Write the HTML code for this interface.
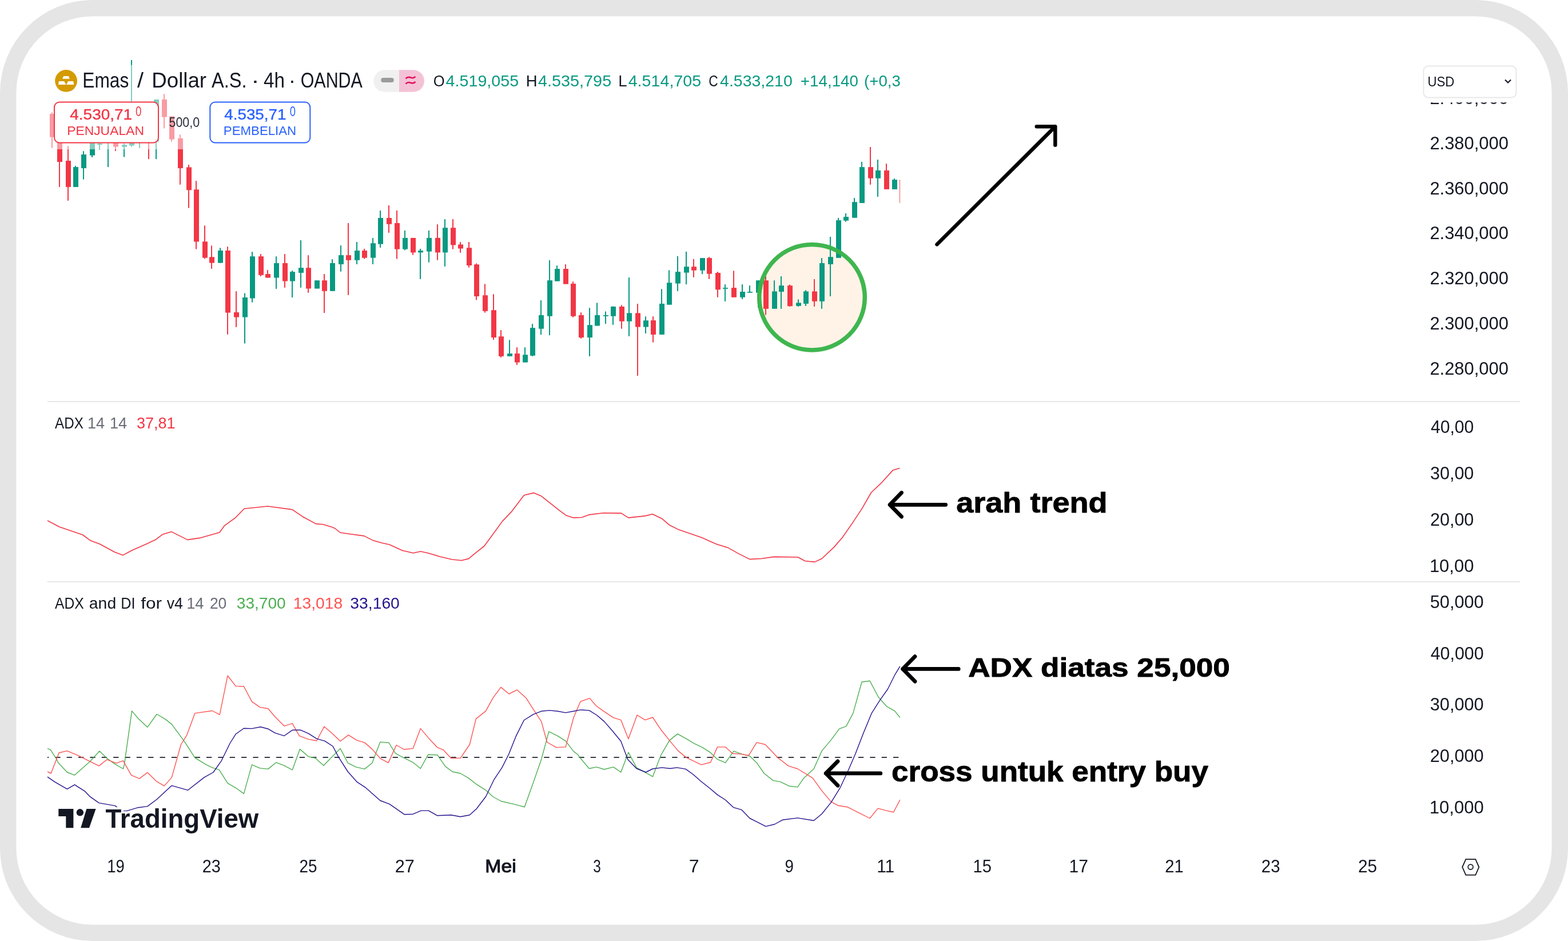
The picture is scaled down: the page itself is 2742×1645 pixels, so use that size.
<!DOCTYPE html><html><head><meta charset="utf-8"><title>XAUUSD ADX</title>
<style>html,body{margin:0;padding:0;background:#fff;}body{width:2742px;height:1645px;overflow:hidden;}svg{display:block;}text{font-family:"Liberation Sans", Arial, sans-serif;}</style></head><body>
<svg width="2742" height="1645" viewBox="0 0 2742 1645">
<defs><clipPath id="cp"><rect x="83" y="100" width="1491" height="602"/></clipPath><clipPath id="ca"><rect x="83" y="703" width="1491" height="313"/></clipPath><clipPath id="cd"><rect x="83" y="1018" width="1491" height="452"/></clipPath></defs>
<rect x="0" y="0" width="2742" height="1645" rx="162" ry="162" fill="#e5e5e5"/>
<rect x="28.4" y="28.4" width="2685.2" height="1588.2" rx="133.6" ry="133.6" fill="#ffffff"/>
<rect x="83" y="701" width="2575" height="2" fill="#e6e6e6"/>
<rect x="83" y="1016" width="2575" height="2" fill="#e6e6e6"/>
<circle cx="1420" cy="519.7" r="92" fill="#fff3e7"/>
<g clip-path="url(#cp)">
<rect x="90" y="196.3" width="2" height="62.5" fill="#f23645"/>
<rect x="87" y="199.1" width="9" height="40.5" fill="#f23645"/>
<rect x="103" y="236" width="2" height="90.9" fill="#f23645"/>
<rect x="100" y="240" width="9" height="43" fill="#f23645"/>
<rect x="118" y="255.2" width="2" height="95.6" fill="#f23645"/>
<rect x="115" y="281" width="9" height="45.9" fill="#f23645"/>
<rect x="131" y="289.8" width="2" height="37.1" fill="#089981"/>
<rect x="128" y="292" width="9" height="34.9" fill="#089981"/>
<rect x="145" y="264.2" width="2" height="49.5" fill="#089981"/>
<rect x="142" y="270" width="9" height="24" fill="#089981"/>
<rect x="160" y="245" width="2" height="30" fill="#089981"/>
<rect x="157" y="247" width="9" height="24.6" fill="#089981"/>
<rect x="173" y="250" width="2" height="11.6" fill="#089981"/>
<rect x="170" y="251" width="9" height="1.9" fill="#089981"/>
<rect x="188" y="240" width="2" height="52" fill="#089981"/>
<rect x="185" y="242" width="9" height="7" fill="#089981"/>
<rect x="201" y="249" width="2" height="14.9" fill="#f23645"/>
<rect x="198" y="249" width="9" height="7.5" fill="#f23645"/>
<rect x="216" y="251" width="2" height="23.4" fill="#089981"/>
<rect x="213" y="253.3" width="9" height="3.4" fill="#089981"/>
<rect x="229" y="105" width="2" height="151.5" fill="#089981"/>
<rect x="226" y="249" width="9" height="5.5" fill="#089981"/>
<rect x="243" y="244" width="2" height="14.8" fill="#089981"/>
<rect x="240" y="245" width="9" height="4" fill="#089981"/>
<rect x="259" y="238" width="2" height="40.2" fill="#f23645"/>
<rect x="256" y="240" width="9" height="9" fill="#f23645"/>
<rect x="272" y="173.9" width="2" height="104.3" fill="#089981"/>
<rect x="269" y="173.9" width="9" height="73.8" fill="#089981"/>
<rect x="286" y="164.3" width="2" height="60.1" fill="#f23645"/>
<rect x="283" y="173.9" width="9" height="30.7" fill="#f23645"/>
<rect x="299" y="203.3" width="2" height="44.2" fill="#f23645"/>
<rect x="296" y="203.3" width="9" height="40.3" fill="#f23645"/>
<rect x="314" y="235.3" width="2" height="87.4" fill="#f23645"/>
<rect x="311" y="241.8" width="9" height="52.2" fill="#f23645"/>
<rect x="329" y="288" width="2" height="75.6" fill="#f23645"/>
<rect x="326" y="292.4" width="9" height="39.9" fill="#f23645"/>
<rect x="342" y="316.2" width="2" height="119.3" fill="#f23645"/>
<rect x="339" y="331.3" width="9" height="91.2" fill="#f23645"/>
<rect x="357" y="394.3" width="2" height="58.2" fill="#f23645"/>
<rect x="354" y="422.3" width="9" height="28.3" fill="#f23645"/>
<rect x="369" y="429.4" width="2" height="40.4" fill="#f23645"/>
<rect x="366" y="449.3" width="9" height="10.3" fill="#f23645"/>
<rect x="384" y="433.3" width="2" height="26.3" fill="#089981"/>
<rect x="381" y="438" width="9" height="21.6" fill="#089981"/>
<rect x="397" y="431.1" width="2" height="153.6" fill="#f23645"/>
<rect x="394" y="438" width="9" height="108.6" fill="#f23645"/>
<rect x="412" y="509.2" width="2" height="62.6" fill="#f23645"/>
<rect x="409" y="545.9" width="9" height="8.6" fill="#f23645"/>
<rect x="427" y="512.5" width="2" height="88" fill="#089981"/>
<rect x="424" y="520" width="9" height="34.5" fill="#089981"/>
<rect x="440" y="440.2" width="2" height="88.4" fill="#089981"/>
<rect x="437" y="448.2" width="9" height="73.3" fill="#089981"/>
<rect x="455" y="444.1" width="2" height="38.9" fill="#f23645"/>
<rect x="452" y="448.2" width="9" height="32.6" fill="#f23645"/>
<rect x="467" y="472.1" width="2" height="13.4" fill="#f23645"/>
<rect x="464" y="479" width="9" height="6.5" fill="#f23645"/>
<rect x="482" y="448.2" width="2" height="56.7" fill="#089981"/>
<rect x="479" y="460" width="9" height="25.5" fill="#089981"/>
<rect x="497" y="444.1" width="2" height="58.7" fill="#f23645"/>
<rect x="494" y="460" width="9" height="31.5" fill="#f23645"/>
<rect x="510" y="473" width="2" height="47" fill="#089981"/>
<rect x="507" y="475.2" width="9" height="16.3" fill="#089981"/>
<rect x="525" y="420.1" width="2" height="82.7" fill="#089981"/>
<rect x="522" y="468.2" width="9" height="8.7" fill="#089981"/>
<rect x="538" y="446.2" width="2" height="65.6" fill="#f23645"/>
<rect x="535" y="468.2" width="9" height="36.3" fill="#f23645"/>
<rect x="553" y="490.2" width="2" height="14.3" fill="#089981"/>
<rect x="550" y="490.2" width="9" height="14.3" fill="#089981"/>
<rect x="566" y="479" width="2" height="68" fill="#f23645"/>
<rect x="563" y="490.2" width="9" height="18.6" fill="#f23645"/>
<rect x="580" y="453.2" width="2" height="55.6" fill="#089981"/>
<rect x="577" y="460" width="9" height="48.8" fill="#089981"/>
<rect x="595" y="429.1" width="2" height="45.7" fill="#089981"/>
<rect x="592" y="446.1" width="9" height="15.8" fill="#089981"/>
<rect x="608" y="390" width="2" height="125.8" fill="#f23645"/>
<rect x="605" y="446.1" width="9" height="8.7" fill="#f23645"/>
<rect x="623" y="423" width="2" height="38.9" fill="#089981"/>
<rect x="620" y="438.1" width="9" height="16.7" fill="#089981"/>
<rect x="636" y="434.9" width="2" height="17.7" fill="#f23645"/>
<rect x="633" y="438.1" width="9" height="12.6" fill="#f23645"/>
<rect x="651" y="415.9" width="2" height="46" fill="#089981"/>
<rect x="648" y="425.2" width="9" height="25.5" fill="#089981"/>
<rect x="664" y="368" width="2" height="64.8" fill="#089981"/>
<rect x="661" y="381" width="9" height="45.7" fill="#089981"/>
<rect x="679" y="359" width="2" height="47.9" fill="#f23645"/>
<rect x="676" y="381" width="9" height="10.8" fill="#f23645"/>
<rect x="693" y="368" width="2" height="84.6" fill="#f23645"/>
<rect x="690" y="390" width="9" height="45.6" fill="#f23645"/>
<rect x="707" y="403" width="2" height="34.5" fill="#089981"/>
<rect x="704" y="415.9" width="9" height="19.7" fill="#089981"/>
<rect x="721" y="415.9" width="2" height="29.8" fill="#f23645"/>
<rect x="718" y="415.9" width="9" height="25.5" fill="#f23645"/>
<rect x="734" y="434.9" width="2" height="52.9" fill="#089981"/>
<rect x="731" y="438.1" width="9" height="3.3" fill="#089981"/>
<rect x="749" y="403" width="2" height="55.6" fill="#089981"/>
<rect x="746" y="415.9" width="9" height="23.8" fill="#089981"/>
<rect x="764" y="392.2" width="2" height="62.6" fill="#f23645"/>
<rect x="761" y="415.9" width="9" height="25.5" fill="#f23645"/>
<rect x="777" y="383.1" width="2" height="82.7" fill="#089981"/>
<rect x="774" y="398.2" width="9" height="43.2" fill="#089981"/>
<rect x="791" y="383.1" width="2" height="52.5" fill="#f23645"/>
<rect x="788" y="398.2" width="9" height="30.2" fill="#f23645"/>
<rect x="804" y="423" width="2" height="18.8" fill="#f23645"/>
<rect x="801" y="427.4" width="9" height="7.1" fill="#f23645"/>
<rect x="819" y="423" width="2" height="44.7" fill="#f23645"/>
<rect x="816" y="433.2" width="9" height="30.8" fill="#f23645"/>
<rect x="832" y="460.4" width="2" height="64" fill="#f23645"/>
<rect x="829" y="462.3" width="9" height="55.7" fill="#f23645"/>
<rect x="847" y="496.4" width="2" height="50.2" fill="#f23645"/>
<rect x="844" y="516.2" width="9" height="27.6" fill="#f23645"/>
<rect x="862" y="514.3" width="2" height="79.7" fill="#f23645"/>
<rect x="859" y="542.2" width="9" height="47.8" fill="#f23645"/>
<rect x="875" y="577" width="2" height="47.9" fill="#f23645"/>
<rect x="872" y="588.2" width="9" height="34.6" fill="#f23645"/>
<rect x="890" y="594.3" width="2" height="28.5" fill="#089981"/>
<rect x="887" y="618" width="9" height="4.8" fill="#089981"/>
<rect x="903" y="607.2" width="2" height="30.7" fill="#f23645"/>
<rect x="900" y="618" width="9" height="15.5" fill="#f23645"/>
<rect x="917" y="607.2" width="2" height="26.3" fill="#089981"/>
<rect x="914" y="620.2" width="9" height="13.3" fill="#089981"/>
<rect x="930" y="566.2" width="2" height="56.6" fill="#089981"/>
<rect x="927" y="573.2" width="9" height="48.5" fill="#089981"/>
<rect x="945" y="525" width="2" height="60" fill="#089981"/>
<rect x="942" y="550.9" width="9" height="23.8" fill="#089981"/>
<rect x="960" y="455" width="2" height="131.1" fill="#089981"/>
<rect x="957" y="490.1" width="9" height="62.6" fill="#089981"/>
<rect x="973" y="464.2" width="2" height="27.4" fill="#089981"/>
<rect x="970" y="470" width="9" height="21.6" fill="#089981"/>
<rect x="988" y="462.1" width="2" height="34.5" fill="#f23645"/>
<rect x="985" y="470" width="9" height="26.6" fill="#f23645"/>
<rect x="1001" y="492.3" width="2" height="62.5" fill="#f23645"/>
<rect x="998" y="495.9" width="9" height="56.8" fill="#f23645"/>
<rect x="1015" y="546.2" width="2" height="45.7" fill="#f23645"/>
<rect x="1012" y="550.9" width="9" height="39.1" fill="#f23645"/>
<rect x="1030" y="538.2" width="2" height="84.6" fill="#089981"/>
<rect x="1027" y="568.2" width="9" height="21.8" fill="#089981"/>
<rect x="1043" y="529.4" width="2" height="40.1" fill="#089981"/>
<rect x="1040" y="550.9" width="9" height="18.6" fill="#089981"/>
<rect x="1058" y="544.5" width="2" height="21.5" fill="#089981"/>
<rect x="1055" y="550.9" width="9" height="1.8" fill="#089981"/>
<rect x="1071" y="535.4" width="2" height="32.4" fill="#089981"/>
<rect x="1068" y="536" width="9" height="16.7" fill="#089981"/>
<rect x="1086" y="533.2" width="2" height="41.5" fill="#f23645"/>
<rect x="1083" y="536" width="9" height="25.7" fill="#f23645"/>
<rect x="1099" y="485.1" width="2" height="102.7" fill="#089981"/>
<rect x="1096" y="547.3" width="9" height="14.4" fill="#089981"/>
<rect x="1114" y="531.1" width="2" height="125.7" fill="#f23645"/>
<rect x="1111" y="547.3" width="9" height="24.3" fill="#f23645"/>
<rect x="1128" y="553.3" width="2" height="29.6" fill="#089981"/>
<rect x="1125" y="560.2" width="9" height="11.4" fill="#089981"/>
<rect x="1141" y="553.2" width="2" height="45.2" fill="#f23645"/>
<rect x="1138" y="560" width="9" height="24.9" fill="#f23645"/>
<rect x="1156" y="505.3" width="2" height="79.6" fill="#089981"/>
<rect x="1153" y="530.9" width="9" height="54" fill="#089981"/>
<rect x="1169" y="472.3" width="2" height="60.4" fill="#089981"/>
<rect x="1166" y="494.3" width="9" height="38.4" fill="#089981"/>
<rect x="1184" y="447.9" width="2" height="61" fill="#089981"/>
<rect x="1181" y="475.1" width="9" height="20.5" fill="#089981"/>
<rect x="1199" y="439.9" width="2" height="57.2" fill="#089981"/>
<rect x="1196" y="466.2" width="9" height="10.4" fill="#089981"/>
<rect x="1212" y="452.8" width="2" height="32" fill="#f23645"/>
<rect x="1209" y="466.2" width="9" height="6.5" fill="#f23645"/>
<rect x="1227" y="451.1" width="2" height="28.1" fill="#089981"/>
<rect x="1224" y="451.1" width="9" height="21.6" fill="#089981"/>
<rect x="1239" y="449.2" width="2" height="38.6" fill="#f23645"/>
<rect x="1236" y="451.1" width="9" height="27.6" fill="#f23645"/>
<rect x="1254" y="475.1" width="2" height="44.6" fill="#f23645"/>
<rect x="1251" y="477" width="9" height="29.3" fill="#f23645"/>
<rect x="1267" y="497.1" width="2" height="29.7" fill="#089981"/>
<rect x="1264" y="503.1" width="9" height="1.7" fill="#089981"/>
<rect x="1282" y="473.3" width="2" height="46.4" fill="#f23645"/>
<rect x="1279" y="503.1" width="9" height="16.6" fill="#f23645"/>
<rect x="1297" y="497.1" width="2" height="25.9" fill="#089981"/>
<rect x="1294" y="510" width="9" height="9.7" fill="#089981"/>
<rect x="1310" y="499.2" width="2" height="12.5" fill="#089981"/>
<rect x="1307" y="510" width="9" height="1.7" fill="#089981"/>
<rect x="1325" y="490.2" width="2" height="47.4" fill="#089981"/>
<rect x="1322" y="490.2" width="9" height="21.5" fill="#089981"/>
<rect x="1338" y="483" width="2" height="67.6" fill="#f23645"/>
<rect x="1335" y="490.2" width="9" height="49.6" fill="#f23645"/>
<rect x="1353" y="490.2" width="2" height="49.6" fill="#089981"/>
<rect x="1350" y="509.4" width="9" height="30.4" fill="#089981"/>
<rect x="1365" y="483" width="2" height="56.8" fill="#089981"/>
<rect x="1362" y="499.2" width="9" height="10.8" fill="#089981"/>
<rect x="1380" y="497.5" width="2" height="38.4" fill="#f23645"/>
<rect x="1377" y="499.2" width="9" height="36" fill="#f23645"/>
<rect x="1395" y="523.4" width="2" height="12.5" fill="#089981"/>
<rect x="1392" y="529.4" width="9" height="5.4" fill="#089981"/>
<rect x="1408" y="507.2" width="2" height="27.6" fill="#089981"/>
<rect x="1405" y="509.4" width="9" height="21.5" fill="#089981"/>
<rect x="1423" y="488" width="2" height="47.9" fill="#f23645"/>
<rect x="1420" y="509.4" width="9" height="17.4" fill="#f23645"/>
<rect x="1436" y="451.1" width="2" height="88.7" fill="#089981"/>
<rect x="1433" y="460" width="9" height="66.8" fill="#089981"/>
<rect x="1451" y="414" width="2" height="104" fill="#089981"/>
<rect x="1448" y="449.2" width="9" height="12.7" fill="#089981"/>
<rect x="1465" y="381" width="2" height="69.8" fill="#089981"/>
<rect x="1462" y="385.1" width="9" height="65.7" fill="#089981"/>
<rect x="1478" y="373" width="2" height="14.7" fill="#089981"/>
<rect x="1475" y="379.1" width="9" height="6.5" fill="#089981"/>
<rect x="1493" y="346" width="2" height="34.7" fill="#089981"/>
<rect x="1490" y="353.2" width="9" height="27.5" fill="#089981"/>
<rect x="1506" y="282.9" width="2" height="72" fill="#089981"/>
<rect x="1503" y="292.1" width="9" height="62.8" fill="#089981"/>
<rect x="1521" y="257" width="2" height="65.8" fill="#f23645"/>
<rect x="1518" y="292.1" width="9" height="19.6" fill="#f23645"/>
<rect x="1534" y="279.1" width="2" height="64.8" fill="#089981"/>
<rect x="1531" y="297.9" width="9" height="13.8" fill="#089981"/>
<rect x="1549" y="286.1" width="2" height="44.8" fill="#f23645"/>
<rect x="1546" y="297.9" width="9" height="33" fill="#f23645"/>
<rect x="1563" y="312" width="2" height="18.9" fill="#089981"/>
<rect x="1560" y="314.1" width="9" height="16.8" fill="#089981"/>
<rect x="1577" y="314.1" width="2" height="40.8" fill="#f23645"/>
<rect x="1574" y="314.1" width="9" height="40.8" fill="#f23645"/>
<rect x="1573" y="314.1" width="1" height="40.8" fill="#f23645" fill-opacity="0.85"/>
</g>
<circle cx="1420" cy="519.7" r="92.3" fill="none" stroke="#39b449" stroke-width="7.5" opacity="0.97"/>
<rect x="83" y="113.7" width="480" height="147.3" fill="#fff" fill-opacity="0.5"/>
<g clip-path="url(#ca)">
<polyline points="83.2,910.2 103.7,921 144.7,935 157.6,944.7 174.9,951.2 200.7,965.2 214.8,970.6 230.9,962 248.2,954.4 271.9,943.6 284.8,933.9 299.9,929.6 328,943.6 349.5,940.4 384,930.7 392.6,918.8 412,904.8 427.1,889.3 468.1,885 511.2,890.8 528.5,902.7 552.2,915.6 565.1,916.7 582.4,922.1 586.3,924 594.7,931 611.5,933.5 636.7,936.9 651.5,944.4 668.3,949.3 680.9,952 704,962.5 722.9,966.7 735.5,964 748.1,966.7 769.2,973 790.2,978 807,979.7 819.6,976.6 832.2,966.1 846.9,954.5 861.6,934.5 878.4,911.4 895.3,893.6 916.3,865.8 933.1,861.6 945.7,866.7 966.7,883.1 979.3,893.1 989.8,900.9 1002.4,905.1 1017.2,904.5 1029.8,899.9 1055,896.7 1080,897.1 1086.3,897.1 1098.9,905.1 1128.3,901.9 1141,898.8 1157.8,906.8 1170.4,917.7 1187.2,926.1 1206.1,932.4 1227.1,939.8 1252.3,950.9 1273.4,957.6 1290.2,967.1 1311.2,977.6 1332.2,976.5 1353.2,973.4 1395.3,974 1407.9,980.7 1424.7,982.4 1437.3,976.5 1458.3,956.6 1473,939.8 1489.8,915.6 1506.6,890.4 1523.5,861 1540.3,845.2 1561.3,822.1 1572.9,818.5" fill="none" stroke="#f23645" stroke-width="1.6" stroke-linejoin="round" stroke-linecap="round" />
</g>
<g clip-path="url(#cd)">
<line x1="75.95" y1="1324" x2="1574" y2="1324" stroke="#363a45" stroke-width="2" stroke-dasharray="9.3,11.057"/>
<polyline points="83,1308.6 88.1,1310.6 98.2,1325.8 102.2,1333.8 117.4,1350 130.5,1355.1 140.6,1346 156.8,1331.8 174,1313 187.1,1325.8 201.3,1335.9 215.4,1344 217.5,1335.9 230.6,1242.9 241.7,1256 257.9,1271.2 274.1,1248.5 288.2,1256.6 300.3,1266.1 322.6,1296.4 340.8,1324.7 359,1335.9 371.1,1341.9 383.2,1345.6 398.1,1369.2 412.2,1377.3 426.4,1387.4 440.5,1336.9 454.7,1342.9 468.8,1344.4 483,1332.8 497.1,1338.3 511.3,1346 524.4,1309.6 539.6,1322.7 551.7,1325.4 565.9,1338.3 580,1323.7 595.2,1308.6 608.3,1333.8 622.5,1340.9 637.6,1344.4 650.8,1333.8 664.9,1297.1 680.1,1298.5 691.2,1316.7 700,1321.7 722.2,1332.8 735.4,1343.5 748.5,1319.3 764.7,1319.7 778.8,1339.9 791,1349 805.1,1352 819.3,1360.1 833.4,1371.2 849.6,1381.3 861.7,1392.5 875.9,1400.5 902.1,1406.6 917.3,1410.7 932.5,1368.2 946.6,1327.8 959.8,1278.9 974.9,1286.3 989.1,1295.4 1003.2,1313.6 1010,1318.7 1016.1,1326.8 1030.2,1343.5 1043.4,1340.9 1056.5,1345 1072.7,1340.9 1085.8,1350 1098.9,1315.2 1113.1,1341.9 1127.2,1349.6 1141.4,1357.7 1155.5,1320.7 1170.7,1294.4 1184.9,1282.9 1200,1291.4 1214.2,1299.9 1228.3,1306.6 1242.5,1315.7 1254.6,1327.4 1268.7,1333.4 1282.9,1313.2 1297,1318.1 1311.2,1321.7 1323.3,1333.4 1336.2,1352 1352.3,1364.6 1364.5,1366.6 1380.6,1374.3 1394.8,1375.9 1404.9,1361.1 1423.1,1344 1437.2,1312.6 1453.4,1293.4 1467.6,1274.2 1479.7,1269.6 1491.8,1246.9 1507,1192.3 1521.1,1190.3 1536.3,1219 1550.4,1234.8 1564.6,1242.9 1573.7,1254" fill="none" stroke="#4caf50" stroke-width="1.4" stroke-linejoin="round" stroke-linecap="round" />
<polyline points="83,1349 89.1,1352 103.2,1316 117.4,1312.6 138.6,1321.7 152.8,1328.8 173,1338.9 187.1,1327.8 203.3,1334.2 215.4,1329.8 229.6,1355.1 243.7,1361.1 257.9,1350.4 274.1,1366.2 287.2,1373.9 300.3,1359.1 316.5,1301.5 326.6,1285.3 340.8,1246.9 371.1,1242.5 384.2,1249.3 398.1,1181.2 412.2,1199.4 426.4,1200 440.5,1226.7 454.7,1236.4 468.8,1238.8 481,1253 497.1,1269.2 511.3,1264.7 523.4,1286.3 539.6,1292.4 553.7,1295 566.9,1270.2 580,1281.3 595.2,1295.8 609.3,1284.9 624.5,1294.4 637.6,1298.1 650.8,1309.6 664.9,1325.8 679.1,1333.4 693.2,1302.5 706.1,1310 722.2,1308.6 735.4,1273.6 750.5,1291.4 764.7,1306.6 774.8,1310.6 788.9,1325.4 805.1,1325.4 821.3,1301.5 832.4,1256.6 849.6,1242.9 861.7,1220.6 875.9,1201.4 890,1213 904.2,1206.1 920.3,1220.6 932.5,1239.8 946.6,1261.1 956.7,1297.5 972.9,1306.6 989.1,1305.9 1003.2,1254 1015.1,1226.3 1031.2,1220.6 1042.3,1233.8 1056.5,1243.9 1072.7,1254.6 1085.8,1258.6 1098.9,1291.8 1114.1,1250 1128.3,1258.6 1141.4,1254 1155.5,1275.2 1170.7,1294.4 1185.9,1312.6 1200,1324.1 1226.3,1336.9 1242.5,1332.8 1254.6,1305.9 1268.7,1305.9 1280.9,1317.3 1295,1318.1 1309.2,1320.7 1323.3,1297.9 1338.2,1301.5 1360.4,1324.7 1378.6,1338.9 1394.8,1344 1421.1,1360.1 1437.2,1382.4 1453.4,1401.6 1465.5,1408.2 1481.7,1410.7 1501.9,1420.8 1521.1,1430.5 1535.3,1413.1 1550.4,1417.1 1562.6,1419.8 1573.7,1398.5" fill="none" stroke="#ff5252" stroke-width="1.4" stroke-linejoin="round" stroke-linecap="round" />
<polyline points="83,1358.1 96.2,1367.2 117.4,1379.3 130.5,1371.8 148.7,1383.4 156.8,1392.1 173,1403.6 201.3,1408.6 213.4,1417.7 221.5,1417.7 241.7,1411.7 257.9,1409.6 274.1,1397.5 300.3,1373.3 328.6,1381.3 356.9,1359.1 373.1,1350 387.3,1329.8 402.1,1299.5 412.2,1283.3 426.4,1273.2 440.5,1273.6 455.7,1270.8 468.8,1274.2 481,1281.3 497.1,1286.3 511.3,1276.2 525.4,1276.2 539.6,1282.3 553.7,1291.4 567.9,1295.4 582,1304.5 592.1,1323.7 608.3,1349 624.5,1367.2 638.6,1376.3 664.9,1399.5 681.1,1405.6 707.4,1423.8 722.2,1423.2 736.4,1417.1 749.5,1417.1 764.7,1425.8 788.9,1424.8 805.1,1427.8 821.3,1424.8 833.4,1413.7 849.6,1392.5 863.7,1363.2 877.9,1341.9 890,1317.7 902.1,1287.4 916.3,1259 932.5,1248.9 946.6,1243.3 960.8,1241.9 974.9,1243.3 989.1,1245.9 1003.2,1243.3 1015.3,1240.9 1030.2,1241.9 1043.4,1250 1056.5,1261.1 1070.6,1277.2 1085.8,1295.8 1097.9,1327.8 1113.1,1343.5 1129.3,1350 1141.4,1344 1157.6,1341.9 1171.7,1343.5 1183.8,1341.9 1199,1344.4 1212.1,1353.7 1226.3,1366.2 1241.5,1378.3 1254.6,1389.4 1268.7,1398.5 1282.9,1411.7 1297,1415.7 1311.2,1430.5 1320,1434.9 1339.2,1444.6 1354.4,1441 1368.5,1433.3 1394.8,1429.9 1423.1,1434.5 1437.2,1422.8 1453.4,1402.6 1469.6,1376.3 1483.7,1346 1495.9,1317.7 1510,1281.3 1524.2,1246.9 1538.3,1224.7 1552.5,1204.5 1564.6,1180.2 1573.7,1165.1" fill="none" stroke="#24138f" stroke-width="1.4" stroke-linejoin="round" stroke-linecap="round" />
</g>
<circle cx="115.6" cy="141.45" r="19.4" fill="#d49b00"/>
<path d="M111.2 133.1 H119.8 L121.9 137.8 H109.1 Z" fill="#fff"/>
<path d="M102.9 142 H112.2 L115.5 147.9 H102 Z" fill="#fff"/>
<path d="M119 142 H128.2 L129.2 147.9 H116.1 Z" fill="#fff"/>
<text x="144.28" y="152.7" font-size="37.8" fill="#131722" textLength="81.07" lengthAdjust="spacingAndGlyphs">Emas</text>
<text x="240.00" y="152.7" font-size="37.8" fill="#131722" textLength="11.07" lengthAdjust="spacingAndGlyphs">/</text>
<text x="265.29" y="152.7" font-size="37.8" fill="#131722" textLength="95.78" lengthAdjust="spacingAndGlyphs">Dollar</text>
<text x="370.10" y="152.7" font-size="37.8" fill="#131722" textLength="61.45" lengthAdjust="spacingAndGlyphs">A.S.</text>
<text x="439.08" y="152.7" font-size="37.8" fill="#131722" textLength="14.85" lengthAdjust="spacingAndGlyphs">·</text>
<text x="461.10" y="152.7" font-size="37.8" fill="#131722" textLength="36.98" lengthAdjust="spacingAndGlyphs">4h</text>
<text x="504.78" y="152.7" font-size="37.8" fill="#131722" textLength="12.33" lengthAdjust="spacingAndGlyphs">·</text>
<text x="525.70" y="152.7" font-size="37.8" fill="#131722" textLength="108.17" lengthAdjust="spacingAndGlyphs">OANDA</text>
<path d="M672.6 122.2 H698 V160.8 H672.6 A19.3 19.3 0 0 1 672.6 122.2 Z" fill="#f0f0f0"/>
<path d="M698 122.2 H722.6 A19.3 19.3 0 0 1 722.6 160.8 H698 Z" fill="#f4c2d6"/>
<rect x="666.2" y="135.9" width="22.6" height="8" rx="4" fill="#9b9b9b"/>
<path d="M709.5 137.3 Q713 133.5 718 135.5 Q723 137.5 726.5 133.8 M709.5 146.5 Q713 142.7 718 144.7 Q723 146.7 726.5 143" fill="none" stroke="#e0115f" stroke-width="2.6"/>
<text x="757.75" y="150.7" font-size="27" fill="#131722" textLength="19.90" lengthAdjust="spacingAndGlyphs">O</text>
<text x="779.60" y="150.7" font-size="27" fill="#089981" textLength="127.58" lengthAdjust="spacingAndGlyphs">4.519,055</text>
<text x="919.76" y="150.7" font-size="27" fill="#131722" textLength="19.86" lengthAdjust="spacingAndGlyphs">H</text>
<text x="941.00" y="150.7" font-size="27" fill="#089981" textLength="128.18" lengthAdjust="spacingAndGlyphs">4.535,795</text>
<text x="1081.25" y="150.7" font-size="27" fill="#131722" textLength="15.36" lengthAdjust="spacingAndGlyphs">L</text>
<text x="1098.70" y="150.7" font-size="27" fill="#089981" textLength="127.48" lengthAdjust="spacingAndGlyphs">4.514,705</text>
<text x="1239.26" y="150.7" font-size="27" fill="#131722" textLength="16.47" lengthAdjust="spacingAndGlyphs">C</text>
<text x="1259.10" y="150.7" font-size="27" fill="#089981" textLength="126.67" lengthAdjust="spacingAndGlyphs">4.533,210</text>
<text x="1399.87" y="150.7" font-size="27" fill="#089981" textLength="101.07" lengthAdjust="spacingAndGlyphs">+14,140</text>
<text x="1511.07" y="150.7" font-size="27" fill="#089981" textLength="63.87" lengthAdjust="spacingAndGlyphs">(+0,3</text>
<rect x="95" y="178.5" width="182" height="71" rx="9" fill="#fff" stroke="#f23645" stroke-width="2"/>
<text x="122.30" y="208.8" font-size="26" fill="#f23645" textLength="108.89" lengthAdjust="spacingAndGlyphs" stroke="#f23645" stroke-width="0.4">4.530,71</text>
<text x="237.10" y="202.7" font-size="23" fill="#f23645" textLength="10.45" lengthAdjust="spacingAndGlyphs">0</text>
<text x="117.15" y="235.7" font-size="21.8" fill="#f23645" textLength="134.78" lengthAdjust="spacingAndGlyphs">PENJUALAN</text>
<rect x="367.3" y="178.5" width="175" height="71" rx="9" fill="#fff" stroke="#2962ff" stroke-width="2"/>
<text x="392.30" y="208.8" font-size="26" fill="#2962ff" textLength="108.09" lengthAdjust="spacingAndGlyphs" stroke="#2962ff" stroke-width="0.4">4.535,71</text>
<text x="506.70" y="202.7" font-size="23" fill="#2962ff" textLength="10.23" lengthAdjust="spacingAndGlyphs">0</text>
<text x="390.88" y="235.9" font-size="21.8" fill="#2962ff" textLength="127.30" lengthAdjust="spacingAndGlyphs">PEMBELIAN</text>
<text x="295.50" y="222.2" font-size="23.5" fill="#2a2e39" textLength="53.56" lengthAdjust="spacingAndGlyphs">500,0</text>
<text x="96.00" y="748.6" font-size="27.2" fill="#131722" textLength="49.92" lengthAdjust="spacingAndGlyphs">ADX</text>
<text x="153.12" y="748.6" font-size="27.2" fill="#6a6d78" textLength="30.00" lengthAdjust="spacingAndGlyphs">14</text>
<text x="191.90" y="748.6" font-size="27.2" fill="#6a6d78" textLength="30.22" lengthAdjust="spacingAndGlyphs">14</text>
<text x="238.90" y="748.6" font-size="27.2" fill="#f23645" textLength="67.71" lengthAdjust="spacingAndGlyphs">37,81</text>
<text x="96.00" y="1063.6" font-size="27.2" fill="#131722" textLength="50.82" lengthAdjust="spacingAndGlyphs">ADX</text>
<text x="155.86" y="1063.6" font-size="27.2" fill="#131722" textLength="47.31" lengthAdjust="spacingAndGlyphs">and</text>
<text x="211.14" y="1063.6" font-size="27.2" fill="#131722" textLength="25.31" lengthAdjust="spacingAndGlyphs">DI</text>
<text x="246.20" y="1063.6" font-size="27.2" fill="#131722" textLength="36.86" lengthAdjust="spacingAndGlyphs">for</text>
<text x="291.70" y="1063.6" font-size="27.2" fill="#131722" textLength="28.32" lengthAdjust="spacingAndGlyphs">v4</text>
<text x="326.19" y="1063.6" font-size="27.2" fill="#6a6d78" textLength="30.33" lengthAdjust="spacingAndGlyphs">14</text>
<text x="366.93" y="1063.6" font-size="27.2" fill="#6a6d78" textLength="29.39" lengthAdjust="spacingAndGlyphs">20</text>
<text x="413.77" y="1063.6" font-size="27.2" fill="#4caf50" textLength="85.96" lengthAdjust="spacingAndGlyphs">33,700</text>
<text x="512.72" y="1063.6" font-size="27.2" fill="#ff5252" textLength="86.55" lengthAdjust="spacingAndGlyphs">13,018</text>
<text x="612.36" y="1063.6" font-size="27.2" fill="#24138f" textLength="86.46" lengthAdjust="spacingAndGlyphs">33,160</text>
<text x="2500.41" y="181.7" font-size="31.3" fill="#131722" textLength="137.49" lengthAdjust="spacingAndGlyphs">2.400,000</text>
<text x="2500.41" y="260.6" font-size="31.3" fill="#131722" textLength="137.49" lengthAdjust="spacingAndGlyphs">2.380,000</text>
<text x="2500.41" y="339.5" font-size="31.3" fill="#131722" textLength="137.49" lengthAdjust="spacingAndGlyphs">2.360,000</text>
<text x="2500.41" y="418.4" font-size="31.3" fill="#131722" textLength="137.49" lengthAdjust="spacingAndGlyphs">2.340,000</text>
<text x="2500.41" y="497.3" font-size="31.3" fill="#131722" textLength="137.49" lengthAdjust="spacingAndGlyphs">2.320,000</text>
<text x="2500.41" y="576.2" font-size="31.3" fill="#131722" textLength="137.49" lengthAdjust="spacingAndGlyphs">2.300,000</text>
<text x="2500.41" y="655.1" font-size="31.3" fill="#131722" textLength="137.49" lengthAdjust="spacingAndGlyphs">2.280,000</text>
<rect x="2480" y="100" width="180" height="79.2" fill="#fff"/>
<rect x="2489.4" y="115.4" width="162" height="55" rx="8" fill="#fff" stroke="#e8e8e8" stroke-width="2"/>
<text x="2496.39" y="150.7" font-size="24.5" fill="#131722" textLength="46.83" lengthAdjust="spacingAndGlyphs">USD</text>
<path d="M2632 139.5 L2637 144.5 L2642 139.5" fill="none" stroke="#131722" stroke-width="2.2"/>
<text x="2501.90" y="757.3" font-size="31.3" fill="#131722" textLength="75.49" lengthAdjust="spacingAndGlyphs">40,00</text>
<text x="2500.92" y="838.1" font-size="31.3" fill="#131722" textLength="76.47" lengthAdjust="spacingAndGlyphs">30,00</text>
<text x="2500.92" y="919" font-size="31.3" fill="#131722" textLength="76.47" lengthAdjust="spacingAndGlyphs">20,00</text>
<text x="2499.92" y="999.8" font-size="31.3" fill="#131722" textLength="77.48" lengthAdjust="spacingAndGlyphs">10,00</text>
<text x="2500.72" y="1062.7" font-size="31.3" fill="#131722" textLength="93.98" lengthAdjust="spacingAndGlyphs">50,000</text>
<text x="2501.70" y="1152.5" font-size="31.3" fill="#131722" textLength="92.99" lengthAdjust="spacingAndGlyphs">40,000</text>
<text x="2500.72" y="1242.2" font-size="31.3" fill="#131722" textLength="93.98" lengthAdjust="spacingAndGlyphs">30,000</text>
<text x="2500.72" y="1332" font-size="31.3" fill="#131722" textLength="93.98" lengthAdjust="spacingAndGlyphs">20,000</text>
<text x="2499.72" y="1421.7" font-size="31.3" fill="#131722" textLength="94.99" lengthAdjust="spacingAndGlyphs">10,000</text>
<text x="187.15" y="1524.8" font-size="31.5" fill="#131722" textLength="30.60" lengthAdjust="spacingAndGlyphs">19</text>
<text x="353.78" y="1524.8" font-size="31.5" fill="#131722" textLength="32.09" lengthAdjust="spacingAndGlyphs">23</text>
<text x="523.52" y="1524.8" font-size="31.5" fill="#131722" textLength="30.94" lengthAdjust="spacingAndGlyphs">25</text>
<text x="690.73" y="1524.8" font-size="31.5" fill="#131722" textLength="34.16" lengthAdjust="spacingAndGlyphs">27</text>
<text x="848.36" y="1524.8" font-size="31.5" fill="#131722" textLength="54.28" lengthAdjust="spacingAndGlyphs" stroke="#131722" stroke-width="1.1">Mei</text>
<text x="1037.32" y="1524.8" font-size="31.5" fill="#131722" textLength="13.58" lengthAdjust="spacingAndGlyphs">3</text>
<text x="1204.68" y="1524.8" font-size="31.5" fill="#131722" textLength="17.87" lengthAdjust="spacingAndGlyphs">7</text>
<text x="1372.42" y="1524.8" font-size="31.5" fill="#131722" textLength="15.44" lengthAdjust="spacingAndGlyphs">9</text>
<text x="1533.20" y="1524.8" font-size="31.5" fill="#131722" textLength="31.04" lengthAdjust="spacingAndGlyphs">11</text>
<text x="1701.45" y="1524.8" font-size="31.5" fill="#131722" textLength="32.43" lengthAdjust="spacingAndGlyphs">15</text>
<text x="1869.59" y="1524.8" font-size="31.5" fill="#131722" textLength="33.46" lengthAdjust="spacingAndGlyphs">17</text>
<text x="2037.27" y="1524.8" font-size="31.5" fill="#131722" textLength="32.43" lengthAdjust="spacingAndGlyphs">21</text>
<text x="2205.87" y="1524.8" font-size="31.5" fill="#131722" textLength="32.61" lengthAdjust="spacingAndGlyphs">23</text>
<text x="2375.06" y="1524.8" font-size="31.5" fill="#131722" textLength="33.03" lengthAdjust="spacingAndGlyphs">25</text>
<path d="M2563.3 1502.1 H2580.3 L2586.3 1515.8 L2580.3 1529.6 H2563.3 L2557.2 1515.8 Z" fill="none" stroke="#131722" stroke-width="1.8" stroke-linejoin="miter"/>
<circle cx="2571.6" cy="1515.5" r="4.4" fill="none" stroke="#131722" stroke-width="1.7"/>
<g>
<rect x="98" y="1410" width="75" height="42" fill="#fff"/>
<path d="M102.3 1414.1 H128.4 V1447.3 H115.3 V1426.9 H102.3 Z" fill="#131722"/>
<circle cx="139.9" cy="1420.3" r="6.2" fill="#131722"/>
<path d="M151.4 1414.1 H167.6 L156 1447.3 H141.2 Z" fill="#131722"/>
<text x="184.50" y="1447.3" font-size="46" fill="#131722" textLength="267.78" lengthAdjust="spacingAndGlyphs" font-weight="bold" stroke="#fff" stroke-width="8" paint-order="stroke" stroke-linejoin="round">TradingView</text>
</g>
<path d="M1638.5 427.3 L1845.3 221.3 M1812.8 221.3 H1845.3 V253.6" stroke="#000" stroke-width="6.5" stroke-linecap="round" stroke-linejoin="round" fill="none"/>
<path d="M1653.7 882.3 H1556.1 M1576.5 861.3 L1556.1 882.3 L1576.5 903.2" stroke="#000" stroke-width="6.8" stroke-linecap="round" stroke-linejoin="round" fill="none"/>
<path d="M1676.2 1169.4 H1578.7 M1600 1147.7 L1578.7 1169.4 L1600 1191.2" stroke="#000" stroke-width="6.8" stroke-linecap="round" stroke-linejoin="round" fill="none"/>
<path d="M1539.8 1351.9 H1444.2 M1465 1330.8 L1444.2 1351.9 L1465 1373.2" stroke="#000" stroke-width="6.8" stroke-linecap="round" stroke-linejoin="round" fill="none"/>
<text x="1672.21" y="896.2" font-size="49.5" fill="#000" textLength="264.33" lengthAdjust="spacingAndGlyphs" font-weight="bold" stroke="#000" stroke-width="0.9" stroke-linejoin="round">arah trend</text>
<text x="1693.23" y="1183" font-size="45.5" fill="#000" textLength="457.59" lengthAdjust="spacingAndGlyphs" font-weight="bold" stroke="#000" stroke-width="0.9" stroke-linejoin="round">ADX diatas 25,000</text>
<text x="1559.13" y="1366" font-size="49.5" fill="#000" textLength="553.77" lengthAdjust="spacingAndGlyphs" font-weight="bold" stroke="#000" stroke-width="0.9" stroke-linejoin="round">cross untuk entry buy</text>
</svg></body></html>
